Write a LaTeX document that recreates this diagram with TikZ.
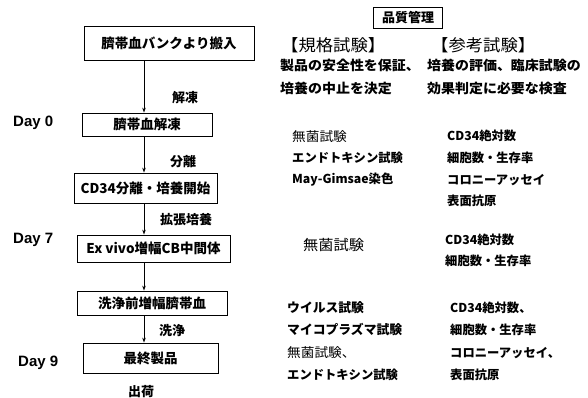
\documentclass[tikz,border=0pt]{standalone}
\usepackage{fontspec}
\setmainfont{Noto Sans CJK JP}
\newfontfamily\jpw{Noto Sans CJK JP}[FakeStretch=1.05]
\newfontfamily\lat{Liberation Sans}
\usetikzlibrary{arrows.meta}
\tikzset{
  flowbox/.style={draw, line width=0.8pt, inner sep=0pt, font=\fontsize{13.5}{14}\selectfont\bfseries},
  arr/.style={line width=0.8pt, -{Stealth[length=5pt,width=3.5pt]}},
  lbl/.style={font=\fontsize{13}{14}\selectfont\bfseries, inner sep=0pt},
  day/.style={font=\lat\fontsize{15}{16}\selectfont\bfseries, anchor=west, inner sep=0pt},
  qc/.style={font=\jpw\fontsize{13.3}{14}\selectfont\bfseries, anchor=west, inner sep=0pt},
  lst/.style={font=\fontsize{12.3}{14}\selectfont\bfseries, anchor=west, inner sep=0pt},
  lstn/.style={font=\jpw\fontsize{13}{14}\selectfont, anchor=west, inner sep=0pt},
  head/.style={font=\jpw\fontsize{16.5}{18}\selectfont, anchor=west, inner sep=0pt}
}
\begin{document}
\begin{tikzpicture}[x=1pt,y=-1pt]
\useasboundingbox[fill=white] (0,0) rectangle (588,398);
% flow boxes
\node[flowbox, minimum width=170pt, minimum height=34pt] (b1) at (169,43) {臍帯血バンクより搬入};
\node[flowbox, minimum width=130pt, minimum height=23pt] (b2) at (147,124.5) {臍帯血解凍};
\node[flowbox, minimum width=143pt, minimum height=30pt] (b3) at (145.5,188) {CD34分離・培養開始};
\node[flowbox, minimum width=153pt, minimum height=27pt] (b4) at (153.5,248.5) {Ex vivo増幅CB中間体};
\node[flowbox, minimum width=150pt, minimum height=24pt] (b5) at (152,303) {洗浄前増幅臍帯血};
\node[flowbox, minimum width=135pt, minimum height=30pt] (b6) at (150.5,358) {最終製品};
\coordinate (ax) at (144,0);
\draw[arr] (b1.south -| ax) -- (b2.north -| ax);
\draw[arr] (b2.south -| ax) -- (b3.north -| ax);
\draw[arr] (b3.south -| ax) -- (b4.north -| ax);
\draw[arr] (b4.south -| ax) -- (b5.north -| ax);
\draw[arr] (b5.south -| ax) -- (b6.north -| ax);
% arrow labels
\node[lbl] (l1) at (185,98) {解凍};
\node[lbl] (l2) at (183,162) {分離};
\node[lbl] (l3) at (186,220) {拡張培養};
\node[lbl] (l4) at (172,331) {洗浄};
\node[lbl] (l5) at (141,392) {出荷};
% days
\node[day] (d0) at (13,123) {Day 0};
\node[day] (d7) at (13,240) {Day 7};
\node[day] (d9) at (18,363) {Day 9};
% QC header
\node[draw, line width=0.8pt, inner sep=2pt, minimum width=69pt, minimum height=21pt, font=\fontsize{13}{14}\selectfont\bfseries] (qh) at (408,18) {品質管理};
\node[head] (h1) at (281,45) {【規格試験】};
\node[head] (h2) at (431,45) {【参考試験】};
\node[qc] (s1) at (280,65) {製品の安全性を保証、};
\node[qc] (s2) at (280,88) {培養の中止を決定};
\node[qc] (r1) at (427,65) {培養の評価、臨床試験の};
\node[qc] (r2) at (427,88) {効果判定に必要な検査};
% Day 0 tests
\node[lstn] (a1) at (292,137) {無菌試験};
\node[lst] (a2) at (292,158) {エンドトキシン試験};
\node[lst] (a3) at (292,180) {May-Gimsae染色};
\node[lst] (c1) at (447,136) {CD34絶対数};
\node[lst] (c2) at (447,158) {細胞数・生存率};
\node[lst] (c3) at (447,180) {コロニーアッセイ};
\node[lst] (c4) at (447,201) {表面抗原};
% Day 7 tests
\node[lstn, font=\jpw\fontsize{14.5}{15}\selectfont] (e1) at (303,245) {無菌試験};
\node[lst] (f1) at (445,240) {CD34絶対数};
\node[lst] (f2) at (445,261) {細胞数・生存率};
% Day 9 tests
\node[lst, font=\fontsize{12.8}{14}\selectfont\bfseries] (g1) at (287,308) {ウイルス試験};
\node[lst, font=\fontsize{12.8}{14}\selectfont\bfseries] (g2) at (287,330) {マイコプラズマ試験};
\node[lstn] (g3) at (287,353) {無菌試験、};
\node[lst] (g4) at (287,375) {エンドトキシン試験};
\node[lst] (k1) at (450,308) {CD34絶対数、};
\node[lst] (k2) at (450,330) {細胞数・生存率};
\node[lst] (k3) at (450,353) {コロニーアッセイ、};
\node[lst] (k4) at (450,375) {表面抗原};
\end{tikzpicture}
\end{document}
